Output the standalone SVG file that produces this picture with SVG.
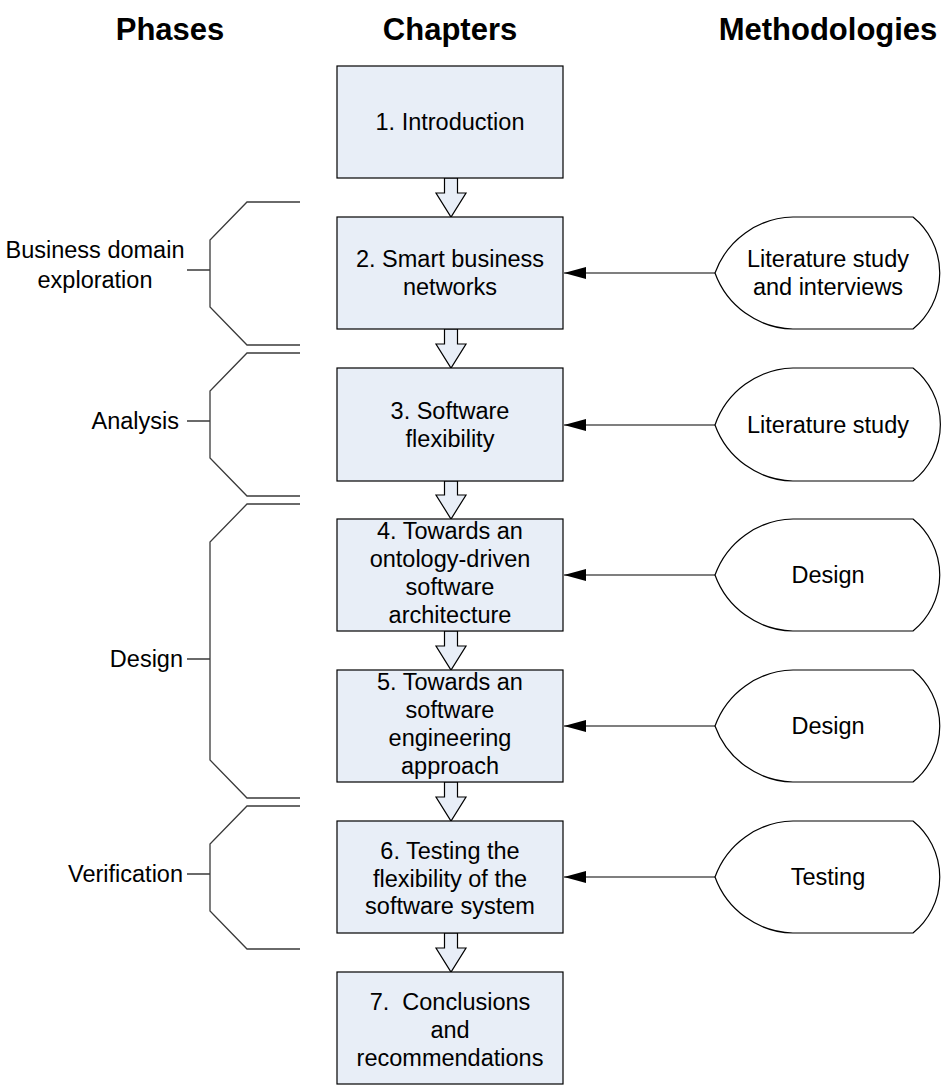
<svg xmlns="http://www.w3.org/2000/svg" width="942" height="1086" viewBox="0 0 942 1086">
  <style>
    text { font-family: "Liberation Sans", Arial, sans-serif; fill: #000; }
    .hdr { font-size: 31px; font-weight: bold; text-anchor: middle; }
    .lbl { font-size: 23.5px; text-anchor: middle; }
    .phase { font-size: 23.5px; text-anchor: end; }
    .box { fill: #e8eef7; stroke: #000; stroke-width: 1.2; }
    .flow { fill: #e8eef7; stroke: #000; stroke-width: 1.2; stroke-linejoin: miter; }
    .meth { fill: #fff; stroke: #000; stroke-width: 1.2; }
    .brk { fill: none; stroke: #3a3a3a; stroke-width: 1.3; }
    .link { fill: none; stroke: #000; stroke-width: 1.2; }
  </style>
  <defs>
    <marker id="head" viewBox="0 0 22 12" refX="22" refY="6" markerWidth="22" markerHeight="12" markerUnits="userSpaceOnUse" orient="auto">
      <path d="M0,0 L22,6 L0,12 Z" fill="#000"/>
    </marker>
  </defs>

  <rect width="942" height="1086" fill="#fff"/>

  <!-- column headings -->
  <g id="headings">
    <text class="hdr" x="170" y="40">Phases</text>
    <text class="hdr" x="450" y="40">Chapters</text>
    <text class="hdr" x="828" y="40">Methodologies</text>
  </g>

  <!-- phase brackets -->
  <g id="phase-exploration">
    <path class="brk" d="M300,202 L247,202 L210,240 L210,307 L247,345 L300,345 M187,270 L210,270"/>
    <text class="lbl" x="95" y="258">Business domain</text>
    <text class="lbl" x="95" y="288">exploration</text>
  </g>
  <g id="phase-analysis">
    <path class="brk" d="M300,353 L247,353 L210,391 L210,458 L247,496 L300,496 M187,421 L210,421"/>
    <text class="phase" x="179" y="429">Analysis</text>
  </g>
  <g id="phase-design">
    <path class="brk" d="M300,504 L247,504 L210,542 L210,760 L247,798 L300,798 M187,659 L210,659"/>
    <text class="phase" x="183" y="667">Design</text>
  </g>
  <g id="phase-verification">
    <path class="brk" d="M300,806 L247,806 L210,844 L210,911 L247,949 L300,949 M187,874 L210,874"/>
    <text class="phase" x="183" y="882">Verification</text>
  </g>

  <!-- chapter flow arrows -->
  <g id="flow">
    <path class="flow" d="M444.5,178 L444.5,193 L436,193 L451,217 L466,193 L457.5,193 L457.5,178 Z"/>
    <path class="flow" d="M444.5,329 L444.5,344 L436,344 L451,368 L466,344 L457.5,344 L457.5,329 Z"/>
    <path class="flow" d="M444.5,481 L444.5,495 L436,495 L451,519 L466,495 L457.5,495 L457.5,481 Z"/>
    <path class="flow" d="M444.5,631 L444.5,646 L436,646 L451,670 L466,646 L457.5,646 L457.5,631 Z"/>
    <path class="flow" d="M444.5,782 L444.5,797 L436,797 L451,821 L466,797 L457.5,797 L457.5,782 Z"/>
    <path class="flow" d="M444.5,933 L444.5,948 L436,948 L451,972 L466,948 L457.5,948 L457.5,933 Z"/>
  </g>

  <!-- chapters -->
  <g id="ch1">
    <rect class="box" x="337" y="66" width="226" height="112"/>
    <text class="lbl" x="450" y="130">1. Introduction</text>
  </g>
  <g id="ch2">
    <rect class="box" x="337" y="217" width="226" height="112"/>
    <text class="lbl" x="450" y="267">2. Smart business</text>
    <text class="lbl" x="450" y="295">networks</text>
  </g>
  <g id="ch3">
    <rect class="box" x="337" y="368" width="226" height="113"/>
    <text class="lbl" x="450" y="419">3. Software</text>
    <text class="lbl" x="450" y="447">flexibility</text>
  </g>
  <g id="ch4">
    <rect class="box" x="337" y="519" width="226" height="112"/>
    <text class="lbl" x="450" y="539">4. Towards an</text>
    <text class="lbl" x="450" y="567">ontology-driven</text>
    <text class="lbl" x="450" y="595">software</text>
    <text class="lbl" x="450" y="623">architecture</text>
  </g>
  <g id="ch5">
    <rect class="box" x="337" y="670" width="226" height="112"/>
    <text class="lbl" x="450" y="690">5. Towards an</text>
    <text class="lbl" x="450" y="718">software</text>
    <text class="lbl" x="450" y="746">engineering</text>
    <text class="lbl" x="450" y="774">approach</text>
  </g>
  <g id="ch6">
    <rect class="box" x="337" y="821" width="226" height="112"/>
    <text class="lbl" x="450" y="859">6. Testing the</text>
    <text class="lbl" x="450" y="887">flexibility of the</text>
    <text class="lbl" x="450" y="914">software system</text>
  </g>
  <g id="ch7">
    <rect class="box" x="337" y="972" width="226" height="112"/>
    <text class="lbl" x="450" y="1010" xml:space="preserve">7.  Conclusions</text>
    <text class="lbl" x="450" y="1038">and</text>
    <text class="lbl" x="450" y="1066">recommendations</text>
  </g>

  <!-- methodologies -->
  <g id="m2">
    <path class="meth" d="M715,273 A85,85 0 0 1 793,217 L913,217 A72,72 0 0 1 913,329 L793,329 A85,85 0 0 1 715,273 Z"/>
    <text class="lbl" x="828" y="267">Literature study</text>
    <text class="lbl" x="828" y="295">and interviews</text>
  </g>
  <g id="m3">
    <path class="meth" d="M715,425 A85,85 0 0 1 793,368 L913,368 A72,72 0 0 1 913,481 L793,481 A85,85 0 0 1 715,425 Z"/>
    <text class="lbl" x="828" y="433">Literature study</text>
  </g>
  <g id="m4">
    <path class="meth" d="M715,575 A85,85 0 0 1 793,519 L913,519 A72,72 0 0 1 913,631 L793,631 A85,85 0 0 1 715,575 Z"/>
    <text class="lbl" x="828" y="583">Design</text>
  </g>
  <g id="m5">
    <path class="meth" d="M715,726 A85,85 0 0 1 793,670 L913,670 A72,72 0 0 1 913,782 L793,782 A85,85 0 0 1 715,726 Z"/>
    <text class="lbl" x="828" y="734">Design</text>
  </g>
  <g id="m6">
    <path class="meth" d="M715,877 A85,85 0 0 1 793,821 L913,821 A72,72 0 0 1 913,933 L793,933 A85,85 0 0 1 715,877 Z"/>
    <text class="lbl" x="828" y="885">Testing</text>
  </g>

  <!-- methodology to chapter connectors -->
  <g id="connectors">
    <path class="link" d="M715,273 L564,273" marker-end="url(#head)"/>
    <path class="link" d="M715,425 L564,425" marker-end="url(#head)"/>
    <path class="link" d="M715,575 L564,575" marker-end="url(#head)"/>
    <path class="link" d="M715,726 L564,726" marker-end="url(#head)"/>
    <path class="link" d="M715,877 L564,877" marker-end="url(#head)"/>
  </g>
</svg>
